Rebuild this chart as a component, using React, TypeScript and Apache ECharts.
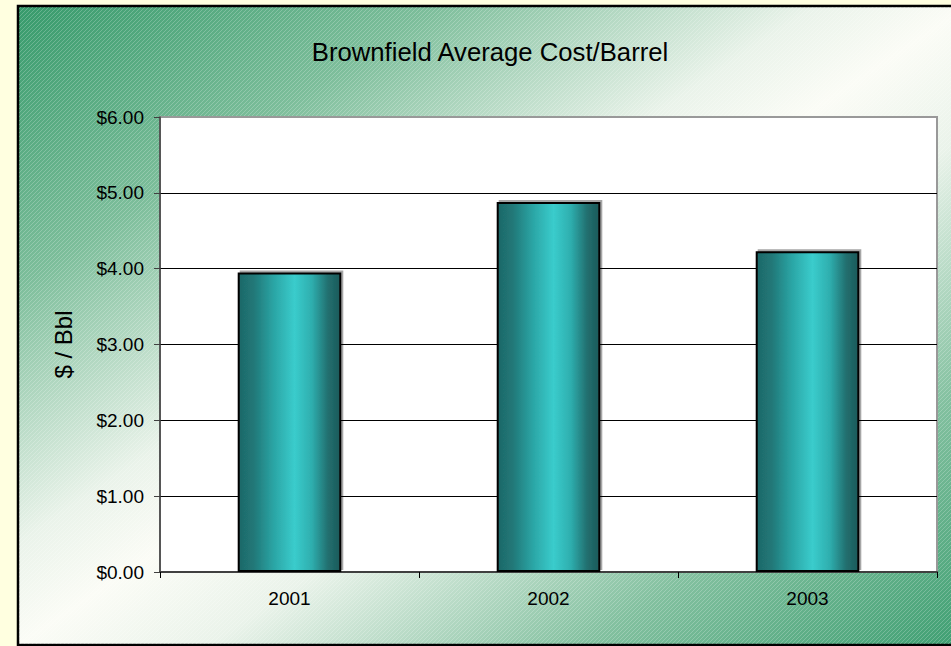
import React, { useEffect, useRef } from "react";
import * as echarts from "echarts";

const categories = ["2001", "2002", "2003"];
const costPerBarrel = [3.95, 4.88, 4.23];
const yTicks = { min: 0, max: 6, interval: 1 };
const titleText = "Brownfield Average Cost/Barrel";
const yAxisName = "$ / Bbl";

const FONT = "'Liberation Sans', Arial, sans-serif";

const stripeSvg =
  "data:image/svg+xml;charset=utf-8," +
  encodeURIComponent(
    "<svg xmlns='http://www.w3.org/2000/svg' width='4' height='4'><path d='M-1,1 L1,-1 M0,4 L4,0 M3,5 L5,3' stroke='rgba(255,255,255,0.22)' stroke-width='1'/></svg>"
  );

export default function App() {
  const ref = useRef<HTMLDivElement>(null);
  useEffect(() => {
    if (!ref.current) return;
    const chart = echarts.init(ref.current, undefined, { renderer: "svg" });
    chart.setOption({
      animation: false,
      backgroundColor: "#FFFFE0",
      graphic: [
        {
          type: "rect",
          z: -10,
          silent: true,
          shape: { x: 18, y: 6, width: 950, height: 639 },
          style: {
            fill: {
              type: "linear",
              x: 0,
              y: 0,
              x2: 1,
              y2: 1,
              colorStops: [
                { offset: 0, color: "#369a6b" },
                { offset: 0.22, color: "#7dbe9b" },
                { offset: 0.42, color: "#eaf3ea" },
                { offset: 0.5, color: "#fbfcf6" },
                { offset: 0.6, color: "#eaf3ea" },
                { offset: 0.8, color: "#82c09f" },
                { offset: 1, color: "#3d9e71" },
              ],
            },
            stroke: "#000",
            lineWidth: 2.5,
          },
        },
        {
          type: "rect",
          z: -9,
          silent: true,
          shape: { x: 19, y: 7, width: 950, height: 637 },
          style: {
            fill: { image: stripeSvg, repeat: "repeat", imageWidth: 4, imageHeight: 4 } as any,
          },
        },
      ],
      title: {
        text: titleText,
        left: 485,
        top: 34,
        textAlign: "center",
        textStyle: { fontFamily: FONT, fontSize: 25.7, fontWeight: "normal", color: "#000" },
      },
      grid: {
        left: 160,
        top: 117,
        width: 777,
        height: 455,
        show: true,
        backgroundColor: "#ffffff",
        borderColor: "#999999",
        borderWidth: 2,
      },
      xAxis: {
        type: "category",
        data: categories,
        axisLine: { lineStyle: { color: "#404040", width: 2 } },
        axisTick: { show: true, length: 6, lineStyle: { color: "#000", width: 1 } },
        axisLabel: { color: "#000", fontFamily: FONT, fontSize: 19, margin: 17 },
      },
      yAxis: {
        type: "value",
        min: yTicks.min,
        max: yTicks.max,
        interval: yTicks.interval,
        name: yAxisName,
        nameLocation: "middle",
        nameGap: 85,
        nameTextStyle: { fontFamily: FONT, fontSize: 24, color: "#000" },
        axisLine: { show: true, lineStyle: { color: "#404040", width: 1.5 } },
        axisTick: { show: true, length: 6, lineStyle: { color: "#404040" } },
        axisLabel: {
          color: "#000",
          fontFamily: FONT,
          fontSize: 19,
          margin: 16,
          formatter: (v: number) => "$" + v.toFixed(2),
        },
        splitLine: {
          show: true,
          showMinLine: false,
          showMaxLine: false,
          lineStyle: { color: "#000", width: 1.2 },
        },
      },
      series: [
        {
          type: "bar",
          data: costPerBarrel,
          barWidth: "40%",
          itemStyle: {
            color: {
              type: "linear",
              x: 0,
              y: 0,
              x2: 1,
              y2: 0,
              colorStops: [
                { offset: 0, color: "#1e6868" },
                { offset: 0.15, color: "#217878" },
                { offset: 0.35, color: "#2ba6a6" },
                { offset: 0.55, color: "#3acccc" },
                { offset: 0.72, color: "#2eaeae" },
                { offset: 0.88, color: "#226f6f" },
                { offset: 1, color: "#1b5a5a" },
              ],
            },
            borderColor: "#000",
            borderWidth: 2,
            shadowColor: "rgba(0,0,0,0.35)",
            shadowBlur: 0,
            shadowOffsetX: 2,
            shadowOffsetY: -2,
          },
        },
      ],
    });
    return () => chart.dispose();
  }, []);
  return (
    <div
      ref={ref}
      style={{ position: "absolute", left: 0, top: 0, width: 951, height: 646 }}
    />
  );
}
